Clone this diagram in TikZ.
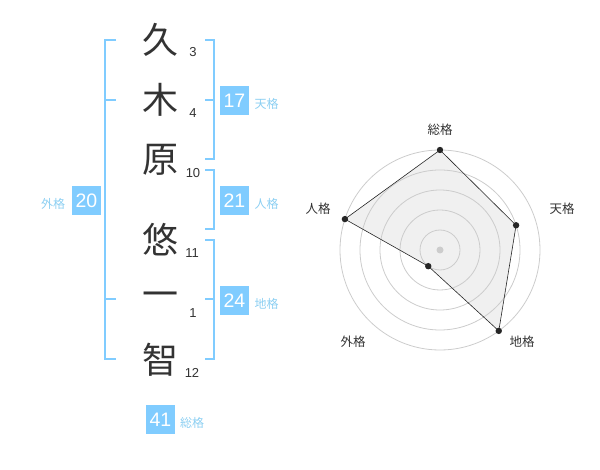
\documentclass[tikz,border=0pt]{standalone}
\usepackage{fontspec}
\newfontfamily\jpfont{Noto Sans CJK JP}
\newfontfamily\numfont{Liberation Sans}
\usetikzlibrary{calc}
\definecolor{skyblue}{HTML}{80CCFF}
\definecolor{kakublue}{HTML}{8CCFF2}
\definecolor{ink}{HTML}{333333}
\definecolor{ringgray}{HTML}{CCCCCC}
\definecolor{areagray}{HTML}{F0F0F0}

\begin{document}
\begin{tikzpicture}[x=1pt,y=-1pt,
	kanji/.style={text=ink,inner sep=0pt,font=\jpfont\fontsize{36}{36}\selectfont},
	strokes/.style={text=ink,inner sep=0pt,font=\numfont\fontsize{13}{13}\selectfont},
	scorebox/.style={fill=skyblue,text=white,minimum size=29pt,inner sep=0pt,font=\numfont\fontsize{19.5}{19.5}\selectfont},
	kaku/.style={text=kakublue,inner sep=0pt,font=\jpfont\fontsize{12}{12}\selectfont},
	bracket/.style={draw=skyblue,line width=1.6pt},
	ring/.style={draw=ringgray,line width=0.8pt},
	axislabel/.style={text=ink,inner sep=0pt,font=\jpfont\fontsize{12.5}{12.5}\selectfont}]
	\useasboundingbox (0,0) rectangle (600,470);
	\node [kanji] (k1) at (160,40)  {久};
	\node [kanji] (k2) at (160,100) {木};
	\node [kanji] (k3) at (160,160) {原};
	\node [kanji] (k4) at (160,240) {悠};
	\node [kanji] (k5) at (160,300) {一};
	\node [kanji] (k6) at (160,360) {智};
	\node [strokes] (s1) at (193,52)  {3};
	\node [strokes] (s2) at (193,113) {4};
	\node [strokes] (s3) at (193,173) {10};
	\node [strokes] (s4) at (192,253) {11};
	\node [strokes] (s5) at (193,313) {1};
	\node [strokes] (s6) at (192,373) {12};
	\draw [bracket] (116,40) -- (105,40) -- (105,359) -- (116,359);
	\draw [bracket] (105,100) -- (116,100);
	\draw [bracket] (105,299) -- (116,299);
	\draw [bracket] (205,40) -- (214,40) -- (214,159) -- (205,159);
	\draw [bracket] (205,100) -- (214,100);
	\draw [bracket] (205,170) -- (214,170) -- (214,229) -- (205,229);
	\draw [bracket] (205,240) -- (214,240) -- (214,359) -- (205,359);
	\draw [bracket] (205,299) -- (214,299);
	\node [scorebox] (ten)  at (234.5,100.5) {17};
	\node [kaku] at (266.5,104) {天格};
	\node [scorebox] (jin)  at (234.5,200.5) {21};
	\node [kaku] at (266.5,204) {人格};
	\node [scorebox] (chi)  at (234.5,300.5) {24};
	\node [kaku] at (266.5,304) {地格};
	\node [scorebox] (gai)  at (86.5,200.5) {20};
	\node [kaku] at (53,204) {外格};
	\node [scorebox] (sou)  at (160.5,419.5) {41};
	\node [kaku] at (192,423) {総格};
	\coordinate (ctr) at (440,250);
	\foreach \n/\a/\r in {psou/-90/100,pten/-18/80,pchi/54/100,pgai/126/20,pjin/198/100}
		\coordinate (\n) at ($(ctr)+(\a:\r)$);
	\fill [areagray] (psou) -- (pten) -- (pchi) -- (pgai) -- (pjin) -- cycle;
	\foreach \r in {20,40,...,100}
		\draw [ring] (ctr) circle (\r);
	\draw [line width=0.6pt,black!85] (psou) -- (pten) -- (pchi) -- (pgai) -- (pjin) -- cycle;
	\foreach \n in {psou,pten,pchi,pgai,pjin}
		\fill [black!85] (\n) circle (3.2);
	\fill [ringgray] (ctr) circle (3.5);
	\node [axislabel] at (440,130) {総格};
	\node [axislabel] at (562,209) {天格};
	\node [axislabel] at (522,342) {地格};
	\node [axislabel] at (353,342) {外格};
	\node [axislabel] at (318,209) {人格};
\end{tikzpicture}
\end{document}
